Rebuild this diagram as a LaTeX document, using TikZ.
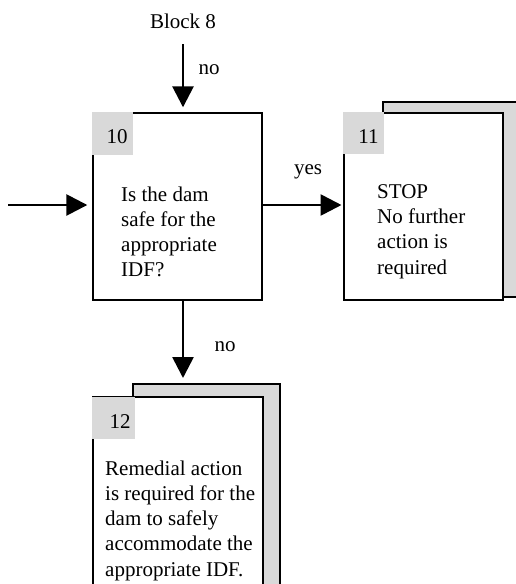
\documentclass[tikz,border=0pt]{standalone}
\usepackage{fontspec}
\setmainfont{Liberation Serif}
\usetikzlibrary{arrows.meta}
\begin{document}
\begin{tikzpicture}[x=1pt,y=-1pt,
  every node/.style={font=\fontsize{21}{25.3}\selectfont},
  frontbox/.style={draw,line width=2pt,fill=white,inner sep=0pt,outer sep=0pt},
  shadowbox/.style={draw,line width=2pt,fill=black!15,inner sep=0pt,outer sep=0pt},
  labelsq/.style={fill=black!15,inner sep=0pt,outer sep=0pt},
  txt/.style={align=left,inner sep=0pt,anchor=base west},
  lbl/.style={inner sep=0pt,anchor=base},
  arr/.style={line width=2.7pt,-{Triangle[length=21pt,width=21pt]}}]
\useasboundingbox (0,0) rectangle (516,584);
\clip (0,0) rectangle (516,584);
% box 10
\node[frontbox,minimum width=169pt,minimum height=187pt] (n10) at (177.3,206.8) {};
\node[labelsq,minimum width=41.6pt,minimum height=42.7pt] (q10) at (112.5,133.6) {};
\node[lbl] (t10) at (117,143) {10};
\node[txt] (x10) at (121,276.9) {Is the dam\\safe for the\\appropriate\\IDF?};
% box 11
\node[shadowbox,minimum width=150pt,minimum height=195pt] (s11) at (458,199.5) {};
\node[frontbox,minimum width=159pt,minimum height=187pt] (n11) at (423.5,206.5) {};
\node[labelsq,minimum width=41pt,minimum height=42pt] (q11) at (363.5,133) {};
\node[lbl] (t11) at (368.5,143) {11};
\node[txt] (x11) at (377,274.2) {STOP\\No further\\action is\\required};
% box 12
\node[shadowbox,minimum width=147pt,minimum height=226pt] (s12) at (206.5,497) {};
\node[frontbox,minimum width=170pt,minimum height=213pt] (n12) at (178,503.5) {};
\node[labelsq,minimum width=43pt,minimum height=42pt] (q12) at (113.5,417.5) {};
\node[lbl] (t12) at (120,428) {12};
\node[txt] (x12) at (105,576.2) {Remedial action\\is required for the\\dam to safely\\accommodate the\\appropriate IDF.};
% top input
\node[lbl] (b8) at (183,28) {Block 8};
\coordinate (b8s) at (183,44);
\draw[arr,shorten >=6pt] (b8s) -- (b8s |- n10.north);
\node[lbl] (no1) at (209,74) {no};
% left input
\coordinate (inl) at (8,205);
\draw[arr,shorten >=5.5pt] (inl) -- (inl -| n10.west);
% yes arrow
\draw[arr,shorten >=2.5pt] (inl -| n10.east) -- (inl -| n11.west);
\node[lbl] (yes) at (308,174) {yes};
% no arrow down
\coordinate (d10) at (183,301);
\draw[arr,shorten >=6pt] (d10) -- (d10 |- s12.north);
\node[lbl] (no2) at (225,351) {no};
\end{tikzpicture}
\end{document}
